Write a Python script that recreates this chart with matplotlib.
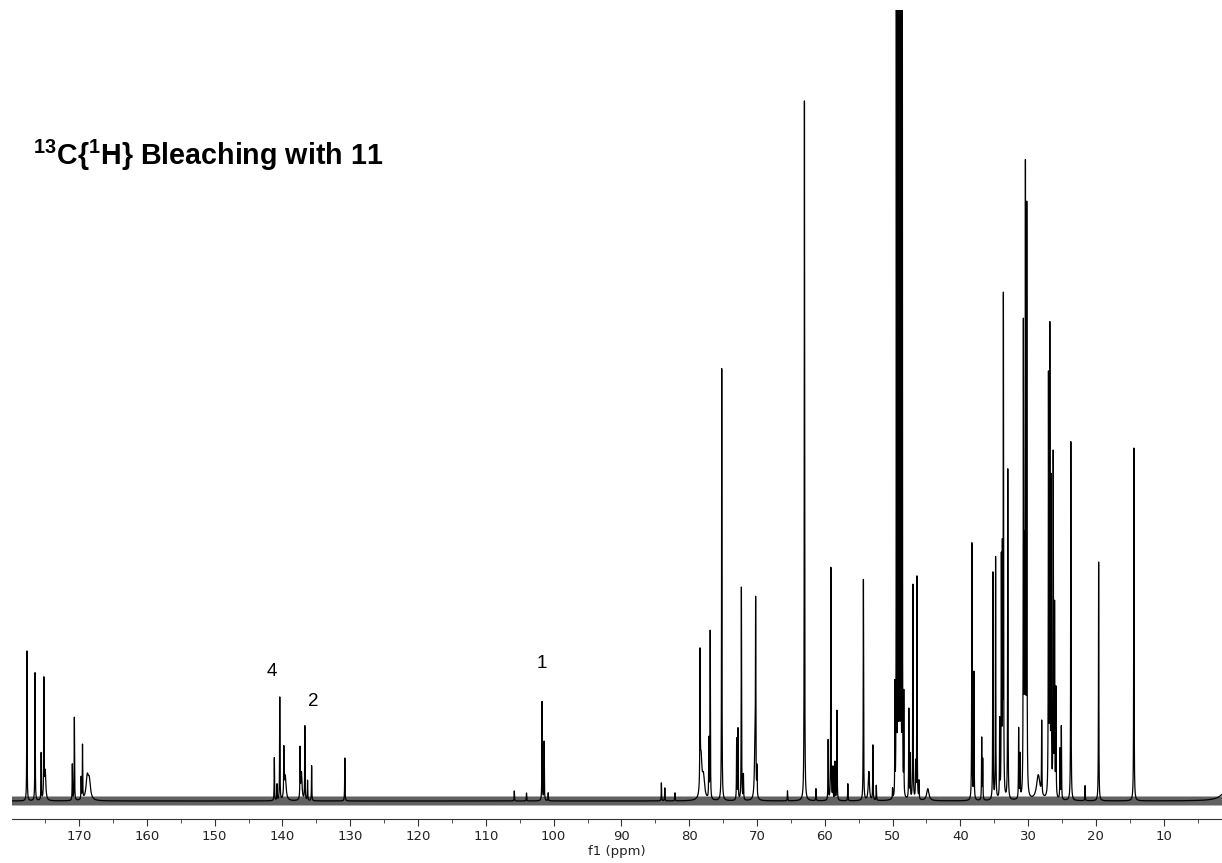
import numpy as np
import matplotlib
matplotlib.use("Agg")
import matplotlib.pyplot as plt
from matplotlib.ticker import MultipleLocator

plt.rcParams["mathtext.fontset"] = "custom"
plt.rcParams["mathtext.rm"] = "Liberation Sans:bold"
plt.rcParams["mathtext.bf"] = "Liberation Sans:bold"

# peak list: shift (ppm), height (arb.), half width (ppm)
peak_ppm = [
    177.7, 176.5, 175.6, 175.2, 175.0, 171.0, 170.7, 169.7, 169.5, 168.8, 168.5,
    141.2, 140.8, 140.4, 139.8, 139.6, 137.4, 137.2, 136.7, 136.3, 135.7, 130.8,
    105.8, 104.0, 101.7, 101.4, 100.8,
    84.1, 83.6, 82.1, 78.4, 78.25, 77.9, 77.1, 76.9, 75.2,
    73.0, 72.8, 72.3, 72.0, 70.3, 70.2, 70.0, 65.5, 63.0, 61.3,
    59.5, 59.1, 58.8, 58.5, 58.2, 56.6, 54.3, 53.5, 52.9, 52.4, 50.0,
    48.34, 48.56, 48.78, 49.0, 49.22, 49.44, 49.66,
    47.6, 47.4, 47.0, 46.6, 46.4, 46.1, 44.8,
    38.3, 38.0, 36.85, 36.7, 35.2, 34.8, 34.2, 33.95, 33.8, 33.65, 33.0,
    31.4, 31.2, 30.7, 30.55, 30.4, 30.2, 28.5, 28.0,
    27.0, 26.8, 26.6, 26.3, 26.1, 25.9, 25.3, 25.1, 23.7, 21.6,
    19.6, 14.4, 0.5,
]
peak_height = [
    150, 128, 47, 118, 29, 36, 83, 22, 54, 22, 18,
    43, 16, 103, 46, 25, 49, 28, 74, 20, 35, 43,
    10, 8, 99, 59, 8,
    18, 13, 8, 130, 40, 22, 59, 168, 432,
    61, 71, 213, 25, 50, 179, 28, 10, 700, 12,
    60, 233, 32, 38, 90, 17, 221, 29, 55, 15, 10,
    100, 900, 1800, 2100, 1800, 900, 110,
    90, 44, 215, 35, 223, 18, 12,
    257, 127, 62, 40, 227, 242, 77, 233, 233, 496, 330,
    70, 43, 465, 223, 615, 582, 25, 73,
    416, 461, 310, 340, 188, 107, 50, 73, 359, 15,
    239, 353, 12,
]
peak_width = [
    0.03, 0.03, 0.03, 0.03, 0.1, 0.03, 0.03, 0.03, 0.03, 0.2, 0.2,
    0.03, 0.03, 0.03, 0.03, 0.15, 0.03, 0.1, 0.03, 0.03, 0.03, 0.03,
    0.03, 0.03, 0.03, 0.03, 0.03,
    0.03, 0.03, 0.03, 0.03, 0.15, 0.2, 0.03, 0.03, 0.03,
    0.03, 0.03, 0.03, 0.03, 0.1, 0.03, 0.03, 0.03, 0.03, 0.03,
    0.03, 0.03, 0.03, 0.03, 0.03, 0.03, 0.03, 0.1, 0.03, 0.03, 0.03,
    0.02, 0.02, 0.015, 0.015, 0.015, 0.02, 0.02,
    0.03, 0.03, 0.03, 0.03, 0.03, 0.03, 0.2,
    0.03, 0.03, 0.03, 0.03, 0.03, 0.03, 0.03, 0.03, 0.03, 0.03, 0.03,
    0.03, 0.03, 0.03, 0.03, 0.03, 0.03, 0.3, 0.03,
    0.03, 0.03, 0.03, 0.03, 0.03, 0.03, 0.03, 0.03, 0.03, 0.03,
    0.03, 0.03, 1.0,
]

label_text = ["4", "2", "1"]
label_ppm = [141.5, 135.5, 101.7]
label_height = [130, 100, 137]

noise_level = 4.5


def spectrum(ppm, centers, heights, widths):
    y = np.zeros_like(ppm)
    for c, h, w in zip(centers, heights, widths):
        y += h / (1 + ((ppm - c) / w) ** 2)
    return y


ppm = np.linspace(181, 0.5, 90000)
intensity = spectrum(ppm, peak_ppm, peak_height, peak_width)

fig = plt.figure(figsize=(12.22, 8.63), dpi=100)
ax = fig.add_axes([12 / 1222, 44 / 863, 1210 / 1222, 809 / 863])

ax.fill_between(ppm, -noise_level, noise_level, color="0.38", lw=0)
ax.plot(ppm, intensity, color="black", lw=0.9)

ax.set_xlim(179.9, 1.4)
ax.set_ylim(-18, 791)

for s in ["top", "left", "right"]:
    ax.spines[s].set_visible(False)
ax.spines["bottom"].set_color("#333333")
ax.set_yticks([])
ax.xaxis.set_minor_locator(MultipleLocator(5))
ax.set_xticks([170, 160, 150, 140, 130, 120, 110, 100, 90, 80, 70, 60, 50, 40, 30, 20, 10])
ax.tick_params(axis="x", which="major", length=5, color="#333333",
               labelsize=9.5, labelcolor="#222222", pad=3)
ax.tick_params(axis="x", which="minor", length=3, color="#333333")
ax.set_xlabel("f1 (ppm)", fontsize=9.5, color="#222222", labelpad=1)

for t, x, y in zip(label_text, label_ppm, label_height):
    ax.text(x, y, t, ha="center", va="center", fontsize=13.5,
            family="Liberation Sans", color="black")

fig.text(33 / 1222, 1 - 165 / 863, r"$^{13}$C{$^{1}$H} Bleaching with 11",
         fontsize=20.6, fontweight="bold", family="Liberation Sans",
         ha="left", va="baseline")

fig.savefig("out.png", dpi=100)
